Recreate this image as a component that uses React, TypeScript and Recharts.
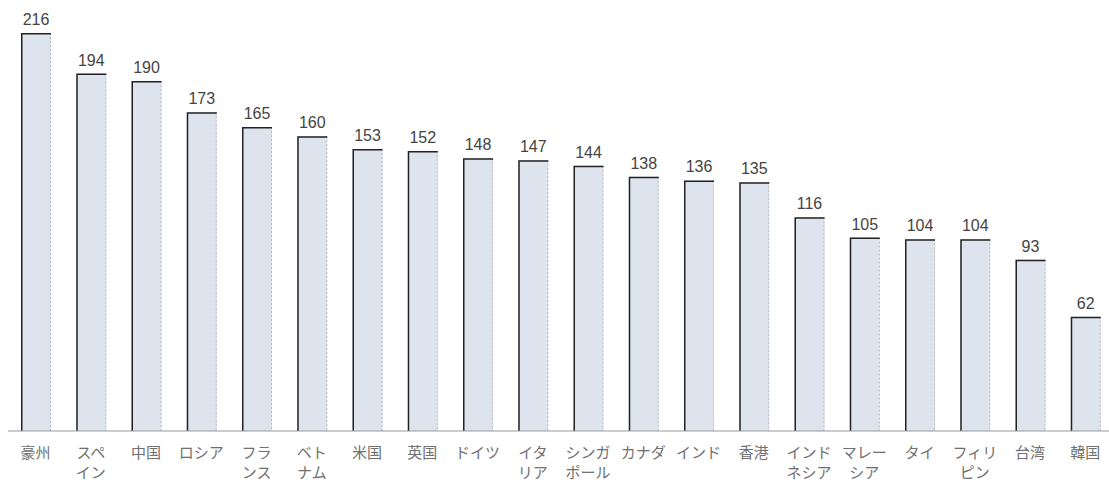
import React from "react";
import { BarChart, Bar, XAxis, YAxis, LabelList } from "recharts";

const categories = [
  "豪州", "スペ\nイン", "中国", "ロシア", "フラ\nンス", "ベト\nナム", "米国", "英国", "ドイツ", "イタ\nリア",
  "シンガ\nポール", "カナダ", "インド", "香港", "インド\nネシア", "マレー\nシア", "タイ", "フィリ\nピン", "台湾", "韓国",
];
const values = [216, 194, 190, 173, 165, 160, 153, 152, 148, 147, 144, 138, 136, 135, 116, 105, 104, 104, 93, 62];

const data = categories.map((c, i) => ({ name: c, value: values[i] }));

const BarShape = (props: any) => {
  const { x, y, width, height } = props;
  if (height <= 0) return null;
  return (
    <g>
      <rect x={x} y={y} width={width} height={height} fill="#dde4ee" />
      <line x1={x + width - 0.5} y1={y} x2={x + width - 0.5} y2={y + height} stroke="#b8bcc4" strokeWidth={1} strokeDasharray="2 2" />
      <path d={`M${x + 0.75},${y + height} L${x + 0.75},${y + 0.75} L${x + width},${y + 0.75}`} fill="none" stroke="#222" strokeWidth={1.5} />
    </g>
  );
};

const Tick = (props: any) => {
  const { x, y, payload } = props;
  const lines = String(payload.value).split("\n");
  return (
    <text x={x} y={y} textAnchor="middle" fill="#707070" fontSize={15} fontFamily="'Noto Sans CJK JP', sans-serif">
      {lines.map((l: string, i: number) => (
        <tspan key={i} x={x} dy={i === 0 ? 19 : 20}>{l}</tspan>
      ))}
    </text>
  );
};

export default function App() {
  return (
    <div style={{ position: "absolute", left: 0, top: 0, width: 1109, height: 484, overflow: "hidden", background: "#fff" }}>
      <BarChart width={1113} height={484} data={data} margin={{ top: 33, right: 0, left: 8, bottom: 0 }} barSize={30}>
        <XAxis dataKey="name" interval={0} height={53} tickLine={false} axisLine={{ stroke: "#999", strokeWidth: 1 }} tick={<Tick />} />
        <YAxis hide domain={[0, 216]} />
        <Bar dataKey="value" shape={<BarShape />} isAnimationActive={false}>
          <LabelList dataKey="value" position="top" offset={8} fill="#444" fontSize={16} fontFamily="'Liberation Sans', sans-serif" />
        </Bar>
      </BarChart>
    </div>
  );
}
